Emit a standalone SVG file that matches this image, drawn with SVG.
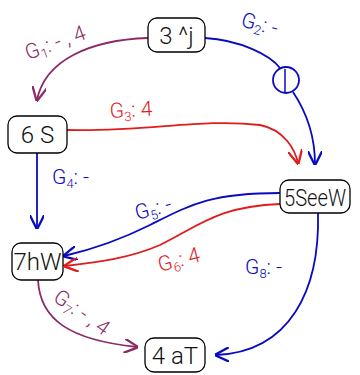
<svg xmlns="http://www.w3.org/2000/svg" width="360" height="375" viewBox="0 0 360 375">
<style>
.n rect{fill:#fff;stroke:#000;stroke-width:1.3}
.n text{font-family:Roboto,"Liberation Sans",sans-serif;font-weight:300;font-size:24px;fill:#111;text-anchor:middle}
.e{fill:none;stroke-width:1.8}
.p{stroke:#8b2a66}.b{stroke:#0a0ac0}.r{stroke:#e01c1c}
.l{font-family:Roboto,"DejaVu Sans",sans-serif;font-weight:300;font-size:21px}
.lp{fill:#8b2a66}.lb{fill:#0a0ac0}.lr{fill:#e01c1c}
</style>
<defs>
<marker id="ap" viewBox="0 0 10 10" refX="9" refY="5" markerWidth="8" markerHeight="8" orient="auto"><path d="M0,0 L10,5 L0,10" fill="none" stroke="#8b2a66" stroke-width="1.6"/></marker>
<marker id="ab" viewBox="0 0 10 10" refX="9" refY="5" markerWidth="8" markerHeight="8" orient="auto"><path d="M0,0 L10,5 L0,10" fill="none" stroke="#0a0ac0" stroke-width="1.6"/></marker>
<marker id="ar" viewBox="0 0 10 10" refX="9" refY="5" markerWidth="8" markerHeight="8" orient="auto"><path d="M0,0 L10,5 L0,10" fill="none" stroke="#e01c1c" stroke-width="1.6"/></marker>
</defs>
<g id="edges">
<path class="e p" d="M148,38 C90,40 45,60 37,100" marker-end="url(#ap)"/>
<path class="e b" d="M205,38 C240,40 270,55 280,68"/>
<circle cx="286" cy="80" r="13" fill="none" stroke="#0a0ac0" stroke-width="1.8"/>
<line x1="285" y1="69" x2="285" y2="92" stroke="#0a0ac0" stroke-width="1.5"/>
<path class="e b" d="M293,92 C305,110 315,135 315,164" marker-end="url(#ab)"/>
<path class="e r" d="M67,130 C150,132 200,118 260,125 C285,130 295,150 298,163" marker-end="url(#ar)"/>
<path class="e b" d="M37,153 L37,228" marker-end="url(#ab)"/>
<path class="e b" d="M280,193 C210,193 190,205 150,225 C120,240 90,250 64,256" marker-end="url(#ab)"/>
<path class="e r" d="M280,204 C220,206 200,225 160,245 C130,258 100,262 65,266" marker-end="url(#ar)"/>
<path class="e b" d="M318,213 C320,290 290,352 216,355" marker-end="url(#ab)"/>
<path class="e p" d="M38,280 C40,320 70,340 137,347" marker-end="url(#ap)"/>
</g>
<g id="labels">
<text class="l lp" transform="translate(28,60) rotate(-20)">G<tspan font-size="13" dy="4">1</tspan><tspan dy="-4">: - , 4</tspan></text>
<text class="l lb" transform="translate(240,26) rotate(15)">G<tspan font-size="13" dy="4">2</tspan><tspan dy="-4">: -</tspan></text>
<text class="l lr" transform="translate(110,118) rotate(-3)">G<tspan font-size="13" dy="4">3</tspan><tspan dy="-4">: 4</tspan></text>
<text class="l lb" x="52" y="184">G<tspan font-size="13" dy="4">4</tspan><tspan dy="-4">: -</tspan></text>
<text class="l lb" transform="translate(137,220) rotate(-15)">G<tspan font-size="13" dy="4">5</tspan><tspan dy="-4">: -</tspan></text>
<text class="l lr" transform="translate(160,272) rotate(-15)">G<tspan font-size="13" dy="4">6</tspan><tspan dy="-4">: 4</tspan></text>
<text class="l lb" x="245" y="274">G<tspan font-size="13" dy="4">8</tspan><tspan dy="-4">: -</tspan></text>
<text class="l lp" transform="translate(52,300) rotate(35)">G<tspan font-size="13" dy="4">7</tspan><tspan dy="-4">: - , 4</tspan></text>
</g>
<g id="n1" class="n"><rect x="148" y="18" width="57" height="34" rx="9"/><text x="176.5" y="44">3 ^j</text></g>
<g id="n2" class="n"><rect x="8" y="116" width="59" height="37" rx="9"/><text x="37.5" y="143">6 S</text></g>
<g id="n3" class="n"><rect x="280" y="180" width="70" height="33" rx="9"/><text x="315" y="206" textLength="62" lengthAdjust="spacingAndGlyphs">5SeeW</text></g>
<g id="n4" class="n"><rect x="12" y="243" width="51" height="37" rx="9"/><text x="37.5" y="270">7hW</text></g>
<g id="n5" class="n"><rect x="145" y="338" width="60" height="34" rx="9"/><text x="175" y="364">4 aT</text></g>
</svg>
